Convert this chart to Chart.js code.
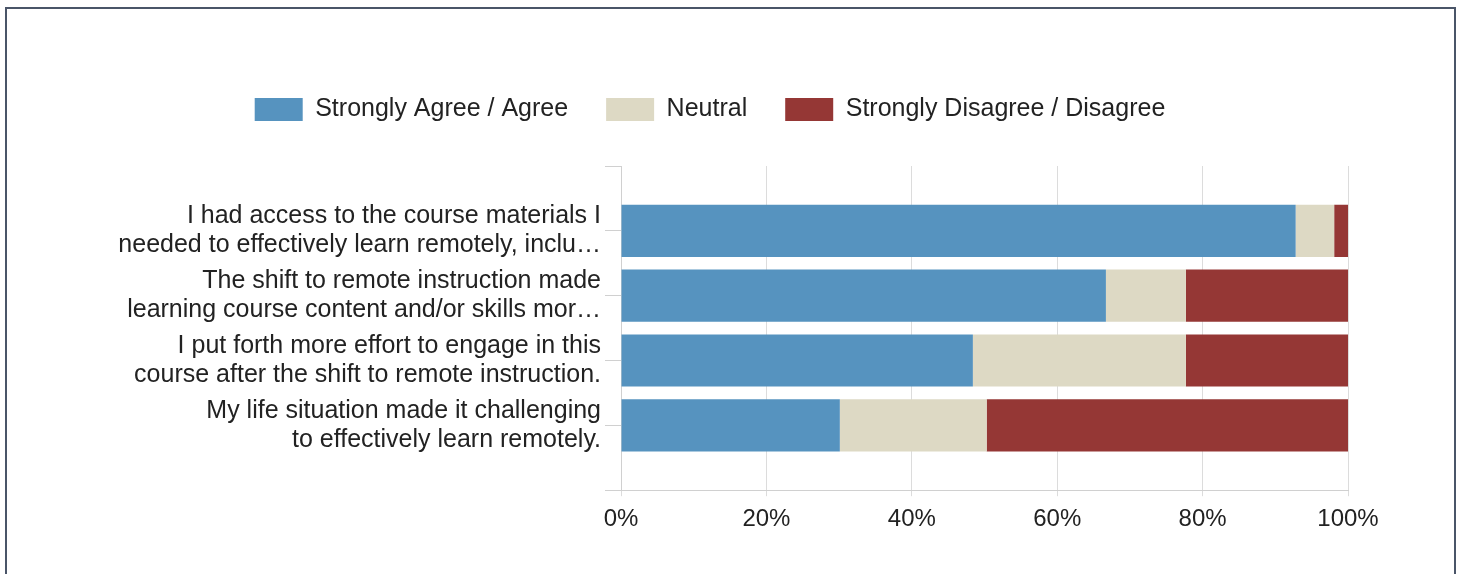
<!DOCTYPE html>
<html>
<head>
<meta charset="utf-8">
<script src="https://cdn.jsdelivr.net/npm/chart.js@4.4.0/dist/chart.umd.min.js"></script>
<style>
  html, body { margin: 0; padding: 0; background: #fff; }
  #wrap { position: relative; width: 1464px; height: 574px; overflow: hidden; }
  #frame { position: absolute; left: 5px; top: 7px; width: 1451px; height: 620px; box-sizing: border-box; border: 2px solid #4a5568; pointer-events: none; }
</style>
</head>
<body>
<div id="wrap">
  <canvas id="reports" width="1464" height="574"></canvas>
  <div id="frame"></div>
</div>
<script>
// survey statements (y axis)
const questions = [
  ['I had access to the course materials I', 'needed to effectively learn remotely, inclu\u2026'],
  ['The shift to remote instruction made', 'learning course content and/or skills mor\u2026'],
  ['I put forth more effort to engage in this', 'course after the shift to remote instruction.'],
  ['My life situation made it challenging', 'to effectively learn remotely.']
];
const seriesNames = ['Strongly Agree / Agree', 'Neutral', 'Strongly Disagree / Disagree'];
// percentages
const agree = [92.8, 66.7, 48.4, 30.1];
const neutral = [5.3, 11.0, 29.3, 20.2];
const disagree = [1.9, 22.3, 22.3, 49.7];
const xTicks = [0, 20, 40, 60, 80, 100];

// empty rows at top and bottom give the padding seen in the original
const labels = [''].concat(questions, ['']);
function pad(arr) { return [null].concat(arr, [null]); }

const legendSpacing = {
  id: 'legendSpacing',
  beforeInit(chart) {
    const fit = chart.legend.fit;
    chart.legend.fit = function () {
      fit.bind(chart.legend)();
      this.height += 34;
    };
  },
  afterLayout(chart) {
    chart.legend.left += 36;
    chart.legend.right += 36;
  }
};

Chart.defaults.font.family = '"Liberation Sans", Arial, sans-serif';
Chart.defaults.color = '#222';

function createReports() {
  new Chart(document.getElementById('reports'), {
    type: 'bar',
    data: {
      labels: labels,
      datasets: [
        { label: seriesNames[0], data: pad(agree), backgroundColor: '#5693bf' },
        { label: seriesNames[1], data: pad(neutral), backgroundColor: '#ddd9c4' },
        { label: seriesNames[2], data: pad(disagree), backgroundColor: '#953735' }
      ]
    },
    options: {
      indexAxis: 'y',
      responsive: false,
      animation: false,
      layout: { padding: { left: 0, right: 116, top: 59, bottom: 31 } },
      datasets: { bar: { categoryPercentage: 1, barPercentage: 0.805 } },
      plugins: {
        legend: {
          position: 'top',
          labels: { boxWidth: 48, boxHeight: 23, padding: 38, font: { size: 25 } }
        },
        tooltip: { enabled: false }
      },
      scales: {
        x: {
          stacked: true,
          min: 0,
          max: 100,
          afterBuildTicks(scale) { scale.ticks = xTicks.map(v => ({ value: v })); },
          ticks: { callback: v => v + '%', font: { size: 24 }, padding: 9 },
          grid: { color: '#dcdcdc', tickLength: 6 },
          border: { color: '#d0d0d0' }
        },
        y: {
          stacked: true,
          offset: false,
          afterFit(scale) { scale.width = 621; },
          ticks: { autoSkip: false, font: { size: 25, lineHeight: 1.16 }, padding: 4 },
          grid: { offset: false, drawOnChartArea: false, color: '#d0d0d0', tickLength: 16 },
          border: { color: '#d0d0d0' }
        }
      }
    },
    plugins: [legendSpacing]
  });
}

window.addEventListener('load', function () {
  createReports();
});
</script>
</body>
</html>
